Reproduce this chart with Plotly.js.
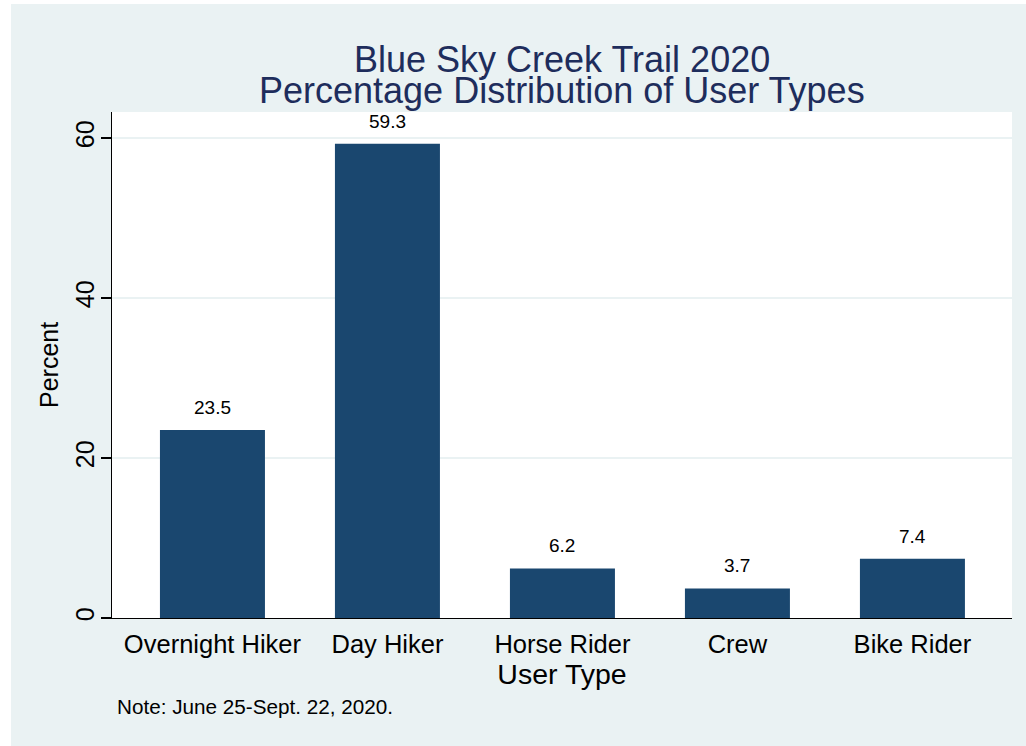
<!DOCTYPE html>
<html>
<head>
<meta charset="utf-8">
<script src="https://cdn.plot.ly/plotly-3.0.1.min.js"></script>
<style>
  html, body { margin: 0; padding: 0; background: #ffffff; width: 1026px; height: 746px; overflow: hidden; }
  #chart { position: absolute; left: 11px; top: 4px; width: 1015px; height: 742px; }
</style>
</head>
<body>
<div id="chart"></div>
<script>
// Data
const categories = ["Overnight Hiker", "Day Hiker", "Horse Rider", "Crew", "Bike Rider"];
const percents = [23.5, 59.3, 6.2, 3.7, 7.4];
const yTickVals = [0, 20, 40, 60];
const yTickText = ["0", "20", "40", "60"];
const titleLines = ["Blue Sky Creek Trail 2020", "Percentage Distribution of User Types"];
const xTitle = "User Type";
const yTitle = "Percent";
const noteText = "Note: June 25-Sept. 22, 2020.";

const FONT = "Liberation Sans, Arial, Helvetica, sans-serif";
const BAR = "#1a476f";
const BG = "#eaf2f3";
const TITLE_COLOR = "#1e2d5c";

const trace = {
  type: "bar",
  x: categories,
  y: percents,
  width: 0.6,
  marker: { color: BAR, line: { width: 0 } },
  hoverinfo: "x+y"
};

const labelAnns = categories.map((c, i) => ({
  x: c, y: percents[i], xref: "x", yref: "y",
  text: percents[i].toFixed(1),
  showarrow: false, yanchor: "bottom", yshift: 10,
  font: { family: FONT, size: 19, color: "#000000" }
}));

const titleShifts = [53, 22];
const titleAnns = titleLines.map((t, i) => ({
  x: 0.5, y: 1, xref: "paper", yref: "paper",
  xanchor: "center", yanchor: "middle", yshift: titleShifts[i],
  text: t, showarrow: false,
  font: { family: FONT, size: 36, color: TITLE_COLOR }
}));

const otherAnns = [
  {
    x: 0, y: 0.5, xref: "paper", yref: "paper",
    xanchor: "center", yanchor: "middle", xshift: -63,
    text: yTitle, textangle: -90, showarrow: false,
    font: { family: FONT, size: 25, color: "#000000" }
  },
  {
    x: 0, y: 0, xref: "paper", yref: "paper",
    xanchor: "left", yanchor: "top", xshift: 3, yshift: -75,
    text: noteText, showarrow: false,
    font: { family: FONT, size: 20.7, color: "#000000" }
  }
];

const layout = {
  width: 1015, height: 742,
  paper_bgcolor: BG,
  plot_bgcolor: "#ffffff",
  margin: { l: 101, r: 14, t: 108, b: 128, pad: 0 },
  showlegend: false,
  font: { family: FONT, color: "#000000" },
  xaxis: {
    type: "category",
    range: [-0.574, 4.569],
    showline: true, linecolor: "#000000", linewidth: 1.3,
    ticks: "", showgrid: false, zeroline: false,
    tickfont: { family: FONT, size: 25.5, color: "#000000" },
    ticklabelstandoff: 3,
    title: { text: xTitle, font: { family: FONT, size: 28.5, color: "#000000" }, standoff: 0 }
  },
  yaxis: {
    range: [0, 63.26],
    tickvals: yTickVals, ticktext: yTickText,
    tickangle: -90,
    showline: true, linecolor: "#000000", linewidth: 1.3,
    ticks: "outside", ticklen: 10, tickwidth: 1.3, tickcolor: "#000000",
    showgrid: true, gridcolor: BG, gridwidth: 1.5,
    zeroline: false,
    tickfont: { family: FONT, size: 25, color: "#000000" },
    ticklabelstandoff: -3
  },
  annotations: labelAnns.concat(titleAnns, otherAnns)
};

Plotly.newPlot("chart", [trace], layout, { displayModeBar: false, staticPlot: true });
</script>
</body>
</html>
